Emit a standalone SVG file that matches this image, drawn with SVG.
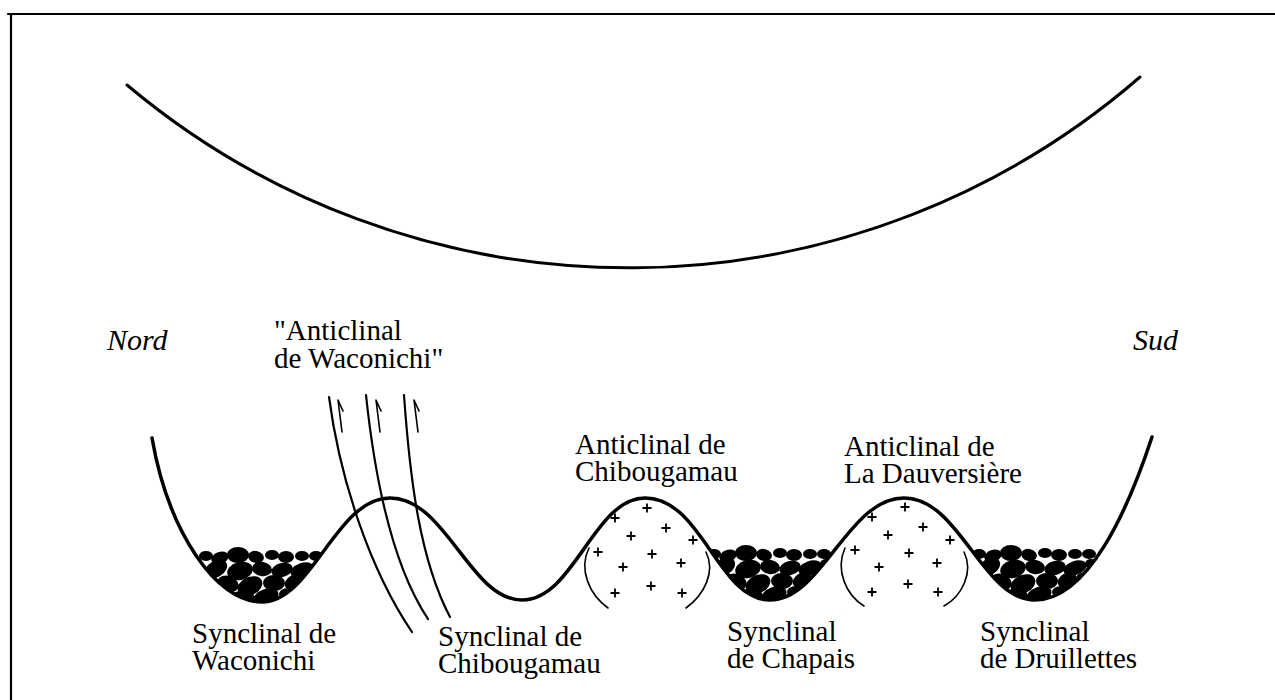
<svg xmlns="http://www.w3.org/2000/svg" xmlns:xlink="http://www.w3.org/1999/xlink" width="1275" height="700" viewBox="0 0 1275 700">
  <style>
    .line { fill: none; stroke: #000; stroke-linecap: round; stroke-linejoin: round; }
    .thick { stroke-width: 3.5; }
    .thin { stroke-width: 2.2; }
    .hair { stroke-width: 1.6; }
    .lbl { font-family: "Liberation Serif", "Times New Roman", serif; font-size: 29px; fill: #000; }
    .dir { font-family: "Liberation Serif", "Times New Roman", serif; font-size: 30px; font-style: italic; fill: #000; }
    .plus { fill: none; stroke: #000; stroke-width: 1.8; }
    .pebble { fill: #000; }
  </style>
  <defs>
    <!-- conglomerate pebbles, placed relative to the bottom of a syncline -->
    <g id="pebbles" class="pebble">
      <ellipse cx="-56" cy="-46" rx="7" ry="5"/>
      <ellipse cx="-42" cy="-44" rx="9" ry="6" transform="rotate(-20 -42 -44)"/>
      <ellipse cx="-24" cy="-47" rx="11" ry="8"/>
      <ellipse cx="-6" cy="-45" rx="8" ry="6" transform="rotate(15 -6 -45)"/>
      <ellipse cx="10" cy="-47" rx="7" ry="5"/>
      <ellipse cx="24" cy="-45" rx="8" ry="6"/>
      <ellipse cx="40" cy="-46" rx="7" ry="5"/>
      <ellipse cx="54" cy="-46" rx="7" ry="5"/>
      <ellipse cx="-46" cy="-33" rx="12" ry="8" transform="rotate(-30 -46 -33)"/>
      <ellipse cx="-22" cy="-31" rx="13" ry="9" transform="rotate(-15 -22 -31)"/>
      <ellipse cx="0" cy="-33" rx="10" ry="7" transform="rotate(10 0 -33)"/>
      <ellipse cx="20" cy="-32" rx="11" ry="7" transform="rotate(-15 20 -32)"/>
      <ellipse cx="40" cy="-32" rx="12" ry="7" transform="rotate(-20 40 -32)"/>
      <ellipse cx="56" cy="-36" rx="6" ry="5"/>
      <ellipse cx="-34" cy="-18" rx="11" ry="8" transform="rotate(20 -34 -18)"/>
      <ellipse cx="-12" cy="-16" rx="13" ry="9" transform="rotate(-25 -12 -16)"/>
      <ellipse cx="12" cy="-19" rx="11" ry="8"/>
      <ellipse cx="32" cy="-20" rx="10" ry="7" transform="rotate(-30 32 -20)"/>
      <ellipse cx="48" cy="-22" rx="7" ry="5"/>
      <ellipse cx="-20" cy="-4" rx="13" ry="7"/>
      <ellipse cx="4" cy="-5" rx="13" ry="8" transform="rotate(-20 4 -5)"/>
      <ellipse cx="26" cy="-8" rx="9" ry="6"/>
    </g>
    <path id="plusSign" d="M-4.5,0 H4.5 M0,-4.5 V4.5"/>
    <clipPath id="clipWaconichi">
      <path d="M152,438 C168,530 215,602 262,602 C312,602 336,498 390,498 Z"/>
    </clipPath>
    <clipPath id="clipChapais">
      <path d="M645,498 C702,498 718,600 770,600 C822,600 848,498 904,498 Z"/>
    </clipPath>
    <clipPath id="clipDruillettes">
      <path d="M904,498 C960,498 982,600 1035,600 C1088,600 1128,510 1152,437 Z"/>
    </clipPath>
  </defs>

  <!-- frame -->
  <g id="frame">
    <path class="line thin" d="M8,14 H1275 M11,14 V700"/>
  </g>

  <!-- upper arc -->
  <g id="arc">
    <path class="line" stroke-width="3" d="M127,85 A780,780 0 0 0 1140,77"/>
  </g>

  <!-- orientation -->
  <g id="nord"><text class="dir" x="107" y="350">Nord</text></g>
  <g id="sud"><text class="dir" x="1133" y="350">Sud</text></g>

  <!-- conglomerate fill in the synclines -->
  <g id="fill-waconichi" clip-path="url(#clipWaconichi)"><use xlink:href="#pebbles" x="262" y="602"/></g>
  <g id="fill-chapais" clip-path="url(#clipChapais)"><use xlink:href="#pebbles" x="770" y="600"/></g>
  <g id="fill-druillettes" clip-path="url(#clipDruillettes)"><use xlink:href="#pebbles" x="1035" y="600"/></g>

  <!-- granite cores of the anticlines -->
  <g id="core-chibougamau">
    <path class="line hair" d="M589,548 C578,570 590,595 608,608 M706,552 C716,572 704,595 686,608"/>
    <g class="plus">
      <use xlink:href="#plusSign" x="647" y="508"/>
      <use xlink:href="#plusSign" x="615" y="518"/>
      <use xlink:href="#plusSign" x="666" y="528"/>
      <use xlink:href="#plusSign" x="631" y="536"/>
      <use xlink:href="#plusSign" x="693" y="540"/>
      <use xlink:href="#plusSign" x="598" y="552"/>
      <use xlink:href="#plusSign" x="652" y="554"/>
      <use xlink:href="#plusSign" x="681" y="563"/>
      <use xlink:href="#plusSign" x="623" y="567"/>
      <use xlink:href="#plusSign" x="651" y="586"/>
      <use xlink:href="#plusSign" x="682" y="593"/>
      <use xlink:href="#plusSign" x="615" y="593"/>
    </g>
  </g>
  <g id="core-dauversiere">
    <path class="line hair" d="M845,548 C835,570 846,595 864,606 M964,552 C974,572 962,596 944,606"/>
    <g class="plus">
      <use xlink:href="#plusSign" x="905" y="507"/>
      <use xlink:href="#plusSign" x="872" y="517"/>
      <use xlink:href="#plusSign" x="923" y="527"/>
      <use xlink:href="#plusSign" x="888" y="535"/>
      <use xlink:href="#plusSign" x="950" y="540"/>
      <use xlink:href="#plusSign" x="855" y="550"/>
      <use xlink:href="#plusSign" x="909" y="553"/>
      <use xlink:href="#plusSign" x="937" y="563"/>
      <use xlink:href="#plusSign" x="879" y="567"/>
      <use xlink:href="#plusSign" x="908" y="584"/>
      <use xlink:href="#plusSign" x="872" y="592"/>
      <use xlink:href="#plusSign" x="938" y="592"/>
    </g>
  </g>

  <!-- folded profile -->
  <g id="profile">
    <path class="line thick" d="M152,438 C168,530 215,602 262,602 C312,602 336,498 390,498 C446,498 470,600 522,600 C574,600 594,498 645,498 C702,498 718,600 770,600 C822,600 848,498 904,498 C960,498 982,600 1035,600 C1088,600 1128,510 1152,437"/>
  </g>

  <!-- faults with slip arrows -->
  <g id="connectors">
    <path class="line thin" d="M329,397 C340,480 370,570 412,632"/>
    <path class="line thin" d="M366,395 C375,480 392,565 428,619"/>
    <path class="line thin" d="M404,395 C410,480 420,560 450,617"/>
    <path class="line hair" d="M342,432 L338,400 L343,411"/>
    <path class="line hair" d="M380,432 L376,400 L381,411"/>
    <path class="line hair" d="M418,432 L414,400 L419,411"/>
  </g>

  <!-- labels -->
  <g id="label-anticlinal-waconichi">
    <text class="lbl" x="274" y="340">"Anticlinal</text>
    <text class="lbl" x="274" y="368">de Waconichi"</text>
  </g>
  <g id="label-anticlinal-chibougamau">
    <text class="lbl" x="575" y="454">Anticlinal de</text>
    <text class="lbl" x="575" y="481">Chibougamau</text>
  </g>
  <g id="label-anticlinal-dauversiere">
    <text class="lbl" x="844" y="456">Anticlinal de</text>
    <text class="lbl" x="844" y="483">La Dauversière</text>
  </g>
  <g id="label-synclinal-waconichi">
    <text class="lbl" x="192" y="643">Synclinal de</text>
    <text class="lbl" x="192" y="670">Waconichi</text>
  </g>
  <g id="label-synclinal-chibougamau">
    <text class="lbl" x="438" y="646">Synclinal de</text>
    <text class="lbl" x="438" y="673">Chibougamau</text>
  </g>
  <g id="label-synclinal-chapais">
    <text class="lbl" x="727" y="641">Synclinal</text>
    <text class="lbl" x="727" y="668">de Chapais</text>
  </g>
  <g id="label-synclinal-druillettes">
    <text class="lbl" x="980" y="641">Synclinal</text>
    <text class="lbl" x="980" y="668">de Druillettes</text>
  </g>
</svg>
